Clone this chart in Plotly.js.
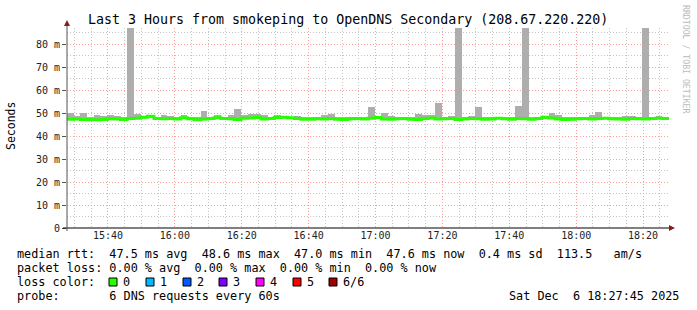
<!DOCTYPE html>
<html>
<head>
<meta charset="utf-8">
<script src="https://cdn.plot.ly/plotly-3.0.1.min.js"></script>
<style>
html,body{margin:0;padding:0;background:#fff;}
#chart{width:697px;height:310px;}
</style>
</head>
<body>
<div id="chart"></div>
<script>
// ---- data (2-minute steps from 15:27:45 to 18:27:45, values in ms) ----
const startTime = '15:27:45';
const stepMinutes = 2;
const medianRtt = [
 47.3,47.4,47.2,47.1,47.1,47.2,47.5,47.4,47.2,47.6,
 47.7,48.2,48.6,47.6,47.5,47.6,47.4,47.9,47.5,47.1,
 47.4,47.6,47.9,47.6,47.5,47.2,47.7,47.8,48.0,47.4,
 47.6,48.0,48.2,47.9,47.6,47.3,47.3,47.5,47.4,47.6,
 47.3,47.2,47.5,47.6,47.4,47.7,48.0,47.4,47.3,47.5,
 47.6,47.3,47.2,47.6,47.8,47.4,47.5,47.6,47.2,47.4,
 47.6,47.5,47.3,47.4,47.7,47.5,47.3,47.6,47.5,47.3,
 47.6,48.1,47.8,47.4,47.2,47.3,47.5,47.6,47.4,47.6,
 47.7,47.5,47.4,47.3,47.6,47.5,47.4,47.6,47.7,47.6
];
const smokeHigh = [
 49.8,48.5,50.0,48.2,49.2,48.6,49.2,48.6,48.2,120,
 49.5,48.6,49.3,48.2,49.1,48.8,48.2,49.2,48.2,48.3,
 51.0,48.4,49.1,48.3,49.0,51.7,49.1,49.5,49.6,49.2,
 48.4,49.1,48.6,48.3,48.7,48.2,48.1,48.2,49.2,49.6,
 48.4,48.2,48.4,48.4,48.3,52.8,48.5,50.1,48.5,48.4,
 48.2,48.3,49.6,49.0,49.0,54.4,48.3,48.5,120,48.3,
 48.7,52.7,48.3,48.4,48.4,48.4,48.2,53.0,120,48.3,
 48.2,48.6,50.1,49.0,48.2,48.3,48.4,48.2,49.0,50.6,
 48.3,48.4,48.2,48.6,48.6,48.2,120,48.3,48.8,48.4
];
const smokeLow = [
 46.9,47.0,46.8,46.7,46.7,46.8,47.1,47.0,46.8,47.2,
 47.3,47.7,48.0,47.2,47.1,47.2,47.0,47.4,47.1,46.7,
 47.0,47.2,47.4,47.2,47.1,46.8,47.3,47.3,47.5,47.0,
 47.2,47.5,47.7,47.4,47.2,46.9,46.9,47.1,47.0,47.2,
 46.9,46.8,47.1,47.2,47.0,47.3,47.5,47.0,46.9,47.1,
 47.2,46.9,46.8,47.2,47.3,47.0,47.1,47.2,46.8,47.0,
 47.2,47.1,46.9,47.0,47.3,47.1,46.9,47.2,47.1,46.9,
 47.2,47.6,47.4,47.0,46.8,46.9,47.1,47.2,47.0,47.2,
 47.3,47.1,47.0,46.9,47.2,47.1,47.0,47.2,47.3,47.2
];
const yTickVals = [0,10,20,30,40,50,60,70,80];
const yTickText = ['0','10 m','20 m','30 m','40 m','50 m','60 m','70 m','80 m'];
const lossLabels = ['0','1','2','3','4','5','6/6'];
const lossColors = ['#26ff00','#00b8ff','#0059ff','#7e00ff','#ff00ff','#ff0000','#a10000'];
const statsLine1 = 'median rtt:  47.5 ms avg  48.6 ms max  47.0 ms min  47.6 ms now  0.4 ms sd  113.5   am/s';
const statsLine2 = 'packet loss: 0.00 % avg  0.00 % max  0.00 % min  0.00 % now';
const probeLine = 'probe:       6 DNS requests every 60s';
const dateLine = 'Sat Dec  6 18:27:45 2025';
const titleText = 'Last 3 Hours from smokeping to OpenDNS Secondary (208.67.220.220)';

// ---- helpers ----
function pad(n){return (n<10?'0':'')+n;}
function timeAt(min){
  const p = startTime.split(':').map(Number);
  let s = p[0]*3600+p[1]*60+p[2] + Math.round(min*60);
  const h=Math.floor(s/3600); s-=h*3600; const m=Math.floor(s/60); s-=m*60;
  return '2025-12-06 '+pad(h)+':'+pad(m)+':'+pad(s);
}
const n = medianRtt.length;
const barX = [], lineX = [], lineY = [], base = [], height = [];
for (let i=0;i<n;i++){
  barX.push(timeAt(i*stepMinutes + stepMinutes/2));
  lineX.push(timeAt(i*stepMinutes));
  lineY.push(medianRtt[i]);
  base.push(smokeLow[i]);
  height.push(smokeHigh[i]-smokeLow[i]);
}
lineX.push(timeAt(n*stepMinutes)); lineY.push(medianRtt[n-1]);

const L=67, T=28, W=602, H=200;
const px = x => (x-L)/W;
const py = y => (T+H-y)/H;
const MONO = 'DejaVu Sans Mono, monospace';
const nb = s => s.replace(/ /g,'\u00a0');

const shapes = [
  {type:'line', xref:'paper', yref:'paper', x0:px(63), x1:px(671), y0:py(228), y1:py(228), line:{color:'#000',width:1}},
  {type:'line', xref:'paper', yref:'paper', x0:px(67), x1:px(67), y0:py(231), y1:py(24), line:{color:'#555',width:1}},
  {type:'path', xref:'paper', yref:'paper', path:'M'+px(669)+','+py(225)+' L'+px(675)+','+py(228)+' L'+px(669)+','+py(231)+' Z', fillcolor:'#8b1a1a', line:{width:0}},
  {type:'path', xref:'paper', yref:'paper', path:'M'+px(64)+','+py(26)+' L'+px(67)+','+py(20)+' L'+px(70)+','+py(26)+' Z', fillcolor:'#8b1a1a', line:{width:0}}
];
const sqX = [109,146,183,219,256,293,329];
const annotations = [
  {text:titleText, xref:'paper', yref:'paper', x:px(348), y:py(19), xanchor:'center', yanchor:'middle', showarrow:false, font:{family:MONO,size:13.3,color:'#000'}},
  {text:'Seconds', xref:'paper', yref:'paper', x:px(11), y:py(126), textangle:-90, xanchor:'center', yanchor:'middle', showarrow:false, font:{family:MONO,size:11.5,color:'#000'}},
  {text:'RRDTOOL / TOBI OETIKER', xref:'paper', yref:'paper', x:px(686), y:py(59), textangle:90, xanchor:'center', yanchor:'middle', showarrow:false, font:{family:MONO,size:8.2,color:'#bbbbbb'}},
  {text:nb(statsLine1), xref:'paper', yref:'paper', x:px(15), y:py(254), xanchor:'left', yanchor:'middle', showarrow:false, font:{family:MONO,size:11.8,color:'#000'}},
  {text:nb(statsLine2), xref:'paper', yref:'paper', x:px(15), y:py(268), xanchor:'left', yanchor:'middle', showarrow:false, font:{family:MONO,size:11.8,color:'#000'}},
  {text:nb('loss color:'), xref:'paper', yref:'paper', x:px(15), y:py(282), xanchor:'left', yanchor:'middle', showarrow:false, font:{family:MONO,size:11.8,color:'#000'}},
  {text:nb(probeLine), xref:'paper', yref:'paper', x:px(15), y:py(296), xanchor:'left', yanchor:'middle', showarrow:false, font:{family:MONO,size:11.8,color:'#000'}},
  {text:nb(dateLine), xref:'paper', yref:'paper', x:px(681), y:py(296), xanchor:'right', yanchor:'middle', showarrow:false, font:{family:MONO,size:11.8,color:'#000'}}
];
lossLabels.forEach((lab,i)=>{
  shapes.push({type:'rect', xref:'paper', yref:'paper', x0:px(sqX[i]), x1:px(sqX[i]+8), y0:py(278), y1:py(286), fillcolor:lossColors[i], line:{color:'#000',width:1}});
  annotations.push({text:lab, xref:'paper', yref:'paper', x:px(sqX[i]+12), y:py(282), xanchor:'left', yanchor:'middle', showarrow:false, font:{family:MONO,size:11.8,color:'#000'}});
});

const traces = [
  {type:'bar', x:barX, y:height, base:base, width:stepMinutes*60000, marker:{color:'#aeaeae', line:{width:0}}, hoverinfo:'skip'},
  {type:'scatter', mode:'lines', x:lineX, y:lineY, line:{color:'#26ff00', width:3, shape:'hv'}, hoverinfo:'skip'}
];

const layout = {
  width:697, height:310,
  margin:{l:L, r:697-L-W, t:T, b:310-T-H, pad:0},
  paper_bgcolor:'#ffffff', plot_bgcolor:'#ffffff',
  showlegend:false, bargap:0,
  xaxis:{
    type:'date', range:[timeAt(0), timeAt(180)],
    tick0:'2025-12-06 15:40:00', dtick:1200000, tickformat:'%H:%M',
    showgrid:true, gridcolor:'#ff9c9c', griddash:'1px,2px', gridwidth:1,
    minor:{tick0:'2025-12-06 15:30:00', dtick:300000, showgrid:true, gridcolor:'#c4c4c4', griddash:'1px,2px', gridwidth:1},
    showline:false, zeroline:false, ticks:'', ticklen:0,
    tickfont:{family:MONO, size:10, color:'#222'}, fixedrange:true
  },
  yaxis:{
    range:[0, 200/2.3], tickvals:yTickVals, ticktext:yTickText,
    showgrid:true, gridcolor:'#ff9c9c', griddash:'1px,2px', gridwidth:1,
    minor:{dtick:5, tick0:0, showgrid:true, gridcolor:'#c4c4c4', griddash:'1px,2px', gridwidth:1},
    showline:false, zeroline:false, ticks:'outside', ticklen:4, tickcolor:'#555',
    tickfont:{family:MONO, size:10, color:'#222'}, fixedrange:true
  },
  shapes:shapes, annotations:annotations
};
Plotly.newPlot('chart', traces, layout, {staticPlot:true, displayModeBar:false});
</script>
</body>
</html>
